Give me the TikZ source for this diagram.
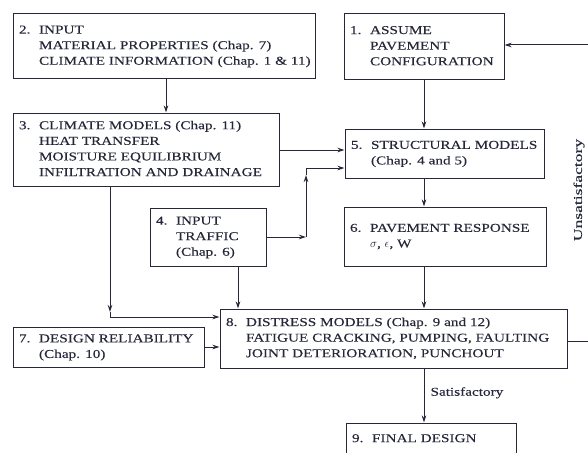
\documentclass[tikz,border=0pt]{standalone}
\usepackage{fontspec}
\setmainfont{Liberation Serif}[FakeStretch=1.27, FakeBold=0.15]
\usetikzlibrary{arrows.meta}
\definecolor{ink}{RGB}{38,40,58}
\newcommand\myfont{\fontsize{12}{15.6}\selectfont}
\newcommand\numl[1]{\makebox[20pt][l]{#1}}
\newcommand\ind{\hspace*{20pt}}
\newcommand\boxnode[6]{%
  \pgfmathsetmacro\bx{(#2+#4)/2}\pgfmathsetmacro\by{(#3+#5)/2}%
  \pgfmathsetmacro\bw{#4-#2-12}\pgfmathsetmacro\bh{#5-#3}%
  \node[box, minimum width=(#4-#2)*1pt, minimum height=\bh pt] (#1) at (\bx,\by)
    {\makebox[\bw pt][l]{\begin{tabular}{@{}l@{}}#6\end{tabular}}};}
\tikzset{
  box/.style={draw=ink, line width=1pt, inner xsep=6pt, inner ysep=0pt, font=\myfont, text=ink},
  arr/.style={draw=ink, line width=1pt, -{Stealth[length=7pt,width=4.5pt]}},
  lbl/.style={font=\myfont, text=ink, inner sep=0pt}
}
\begin{document}
\begin{tikzpicture}[x=1pt,y=-1pt]
\useasboundingbox (0,0) rectangle (588,452);
\clip (0,0) rectangle (588,452);
\fill[white] (0,0) rectangle (588,452);
\boxnode{n2}{13}{14}{315}{78}{\numl{2.}INPUT\\\ind MATERIAL PROPERTIES (Chap. 7)\\\ind CLIMATE INFORMATION (Chap. 1 \& 11)}
\boxnode{n1}{344}{14}{504}{79}{\numl{1.}ASSUME\\\ind PAVEMENT\\\ind CONFIGURATION}
\boxnode{n3}{13}{113}{279}{186}{\numl{3.}CLIMATE MODELS (Chap. 11)\\\ind HEAT TRANSFER\\\ind MOISTURE EQUILIBRIUM\\\ind INFILTRATION AND DRAINAGE}
\boxnode{n5}{345}{129}{544}{178}{\numl{5.}STRUCTURAL MODELS\\\ind (Chap. 4 and 5)}
\boxnode{n4}{150}{208}{266}{266}{\numl{4.}INPUT\\\ind TRAFFIC\\\ind (Chap. 6)}
\boxnode{n6}{344}{207}{546}{266}{\numl{6.}PAVEMENT RESPONSE\\\ind $\sigma$, $\epsilon$, W}
\boxnode{n7}{13}{327}{204}{367}{\numl{7.}DESIGN RELIABILITY\\\ind (Chap. 10)}
\boxnode{n8}{220}{309}{567}{368}{\numl{8.}DISTRESS MODELS (Chap. 9 and 12)\\\ind FATIGUE CRACKING, PUMPING, FAULTING\\\ind JOINT DETERIORATION, PUNCHOUT}
\boxnode{n9}{346}{423}{516}{455}{\numl{9.}FINAL DESIGN}
% connectors
\draw[arr] (166,0 |- n2.south) -- (166,0 |- n3.north);
\draw[arr] (n1.south) -- (n1.south |- n5.north);
\draw[arr] (n3.east |- 0,150) -- (n5.west |- 0,150);
\coordinate (j1) at (306,237);
\coordinate (j2) at (306,175);
\coordinate (j3) at (306,168);
\draw[arr] (n4.east |- j1) -- (j1);
\draw[arr] (j1) -- (j2);
\draw[arr] (j2) -- (j3) -- (n5.west |- j3);
\draw[arr] (424,0 |- n5.south) -- (424,0 |- n6.north);
\coordinate (k1) at (110,317);
\coordinate (k0) at (110,312);
\draw[arr] (k1 |- n3.south) -- (k0);
\draw[arr] (k0) -- (k1) -- (n8.west |- k1);
\draw[arr] (238,0 |- n4.south) -- (238,0 |- n8.north);
\draw[arr] (424,0 |- n6.south) -- (424,0 |- n8.north);
\draw[arr] (n7.east) -- (n8.west |- n7.east);
\draw[arr] (424,0 |- n8.south) -- node[lbl, right=6pt, pos=0.45] (sat) {Satisfactory} (424,0 |- n9.north);
\coordinate (r1) at (600,341);
\coordinate (r2) at (600,45);
\draw[arr] (n8.east |- r1) -- (r1) -- (r2) -- (n1.east |- r2);
\node[lbl, rotate=90] (unsat) at (579,190) {\scalebox{1.15}[1]{Unsatisfactory}};
\end{tikzpicture}
\end{document}
